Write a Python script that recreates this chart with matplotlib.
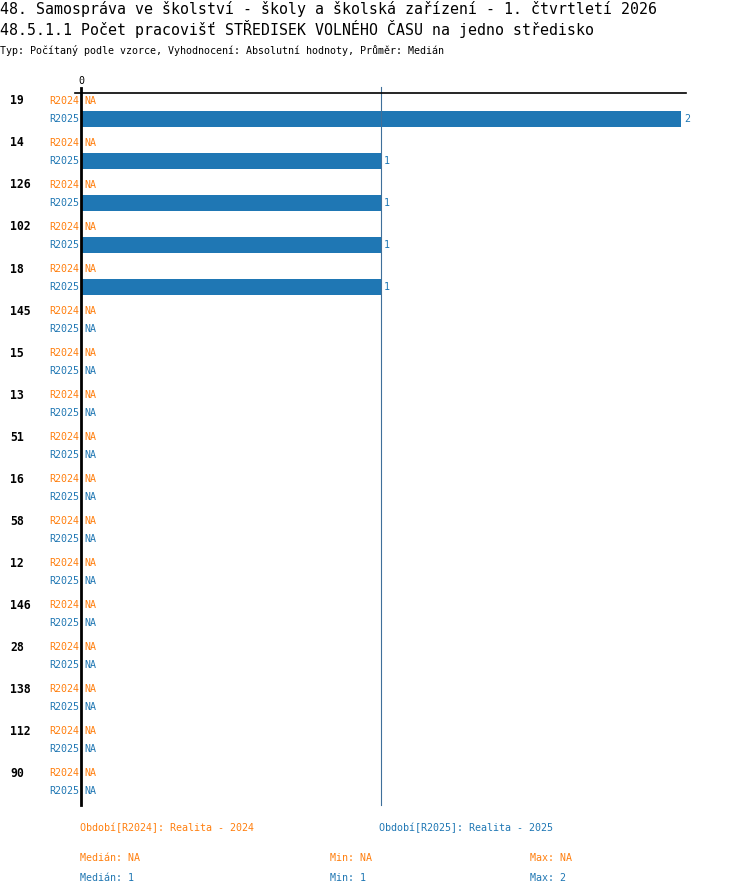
import matplotlib
matplotlib.use('Agg')
import matplotlib.pyplot as plt
import numpy as np

# data
groups = ['19', '14', '126', '102', '18', '145', '15', '13', '51', '16',
          '58', '12', '146', '28', '138', '112', '90']
series = ['R2024', 'R2025']
vals_2024 = [np.nan] * 17
vals_2025 = [2, 1, 1, 1, 1] + [np.nan] * 12
legend_labels = ['Období[R2024]: Realita - 2024', 'Období[R2025]: Realita - 2025']

title1 = '48. Samospráva ve školství - školy a školská zařízení - 1. čtvrtletí 2026'
title2 = '48.5.1.1 Počet pracovišť STŘEDISEK VOLNÉHO ČASU na jedno středisko'
subtitle = 'Typ: Počítaný podle vzorce, Vyhodnocení: Absolutní hodnoty, Průměr: Medián'

ORANGE = '#ff7f0e'
BLUE = '#1f77b4'
colors = [ORANGE, BLUE]

plt.rcParams['font.family'] = ['DejaVu Sans Mono']

W, H = 750, 896
fig = plt.figure(figsize=(7.5, 8.96), dpi=100)


def px(x, y):
    return x / W, 1 - y / H


def ftext(x, y, s, **kw):
    fx, fy = px(x, y)
    fig.text(fx, fy, s, va='center', **kw)


ftext(0, 9, title1, fontsize=10.7)
ftext(0, 29, title2, fontsize=10.7)
ftext(0, 50, subtitle, fontsize=7.2)

# axes: left 81px, right 686px, top 93px, bottom 805px
ax = fig.add_axes([81 / W, (H - 805) / H, 605 / W, 712 / H])
ax.set_xlim(0, 605 / 300)
ax.set_ylim(16.76, -0.19)
for s in ax.spines.values():
    s.set_visible(False)
ax.set_xticks([])
ax.set_yticks([])

offset = 0.42
bar_h = 16 / 42
all_vals = [vals_2024, vals_2025]
for j, vals in enumerate(all_vals):
    pos = np.arange(len(groups)) + j * offset
    v = np.array(vals, dtype=float)
    ax.barh(pos, np.nan_to_num(v), height=bar_h, color=colors[j])
    for p, val in zip(pos, v):
        ax.text(-2 / 300, p, series[j], color=colors[j], fontsize=7.2,
                ha='right', va='center')
        if np.isnan(val):
            ax.text(3 / 300, p, 'NA', color=colors[j], fontsize=7.2,
                    ha='left', va='center')
        else:
            ax.text(val + 3 / 300, p, '%d' % val, color=colors[j],
                    fontsize=7.2, ha='left', va='center')

for i, g in enumerate(groups):
    ax.text(-71 / 300, i, g, fontsize=8.3, fontweight='bold', ha='left',
            va='center')

ax.axvline(1, ymin=0, ymax=1 + 6 / 712, color='#3f6f9a', lw=0.8, clip_on=False)
ax.axhline(-0.19, xmin=-6 / 605, xmax=1, color='black', lw=1.2, clip_on=False)
ax.axvline(0, ymin=0, ymax=1 + 5 / 712, color='black', lw=2, clip_on=False)
ax.text(0, -0.19 - 12 / 42, '0', fontsize=7.2, ha='center', va='center')

# legend / summary
ftext(80, 828, legend_labels[0], color=ORANGE, fontsize=7.2)
ftext(379, 828, legend_labels[1], color=BLUE, fontsize=7.2)


def fmt(x):
    return 'NA' if np.isnan(x) else '%g' % x


for j, (vals, y) in enumerate(zip(all_vals, [858, 878])):
    v = np.array(vals, dtype=float)
    v = v[~np.isnan(v)]
    if len(v):
        med, mn, mx = np.median(v), v.min(), v.max()
    else:
        med = mn = mx = np.nan
    ftext(80, y, 'Medián: ' + fmt(med), color=colors[j], fontsize=7.2)
    ftext(330, y, 'Min: ' + fmt(mn), color=colors[j], fontsize=7.2)
    ftext(530, y, 'Max: ' + fmt(mx), color=colors[j], fontsize=7.2)

fig.savefig('out.png', dpi=100)
plt.close(fig)
